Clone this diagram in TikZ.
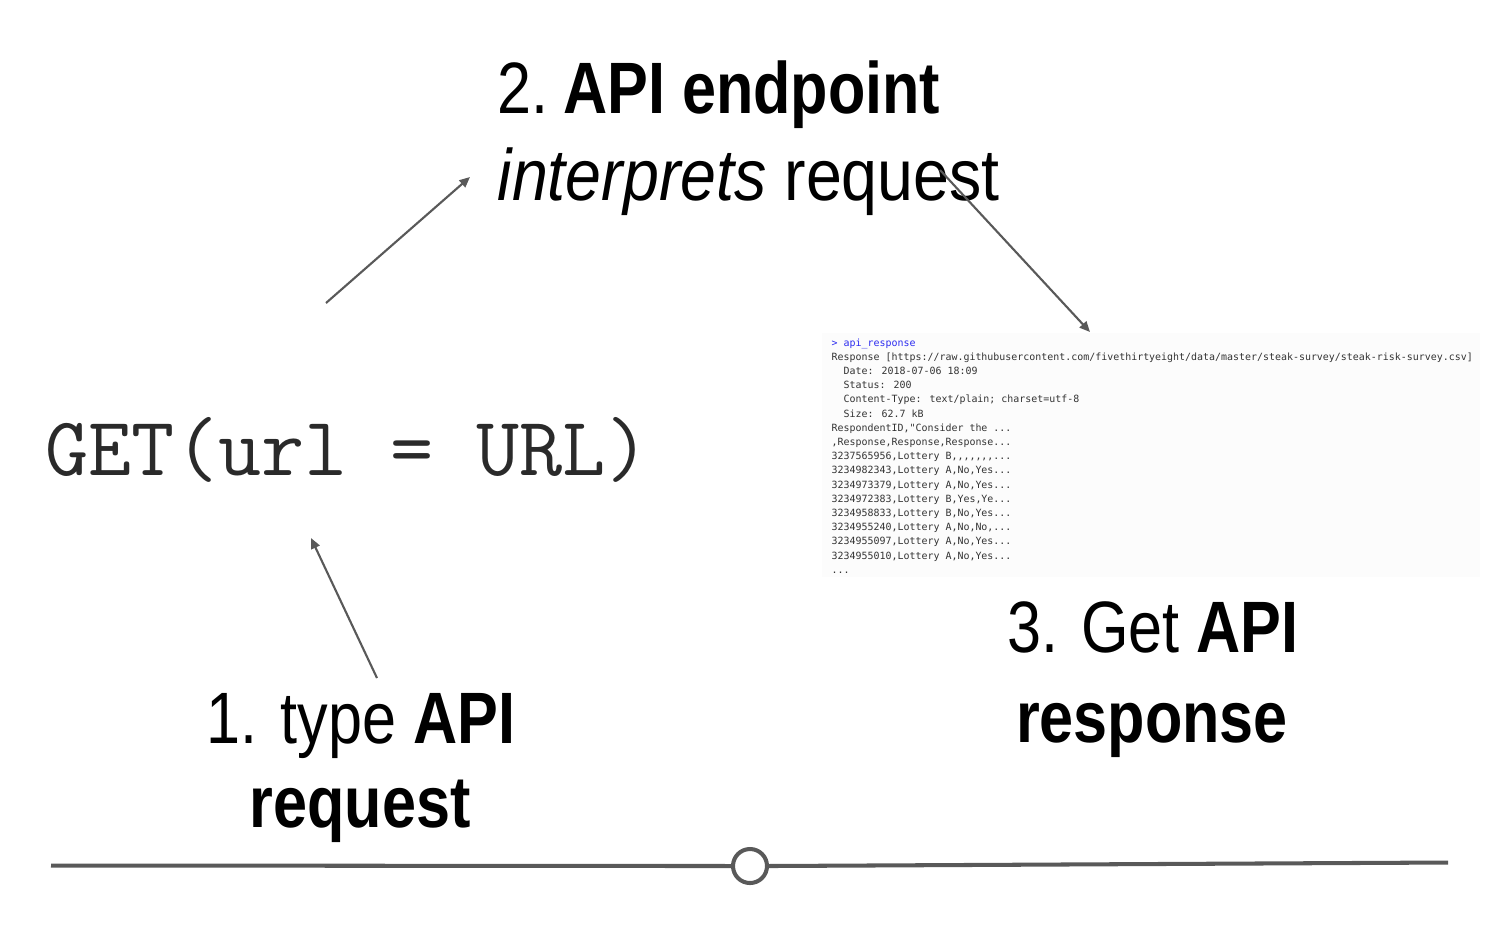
\documentclass[tikz,border=0pt]{standalone}
\usepackage{fontspec}
\setmainfont{Liberation Sans}[FakeStretch=0.84]
\newfontfamily\shotfont{DejaVu Sans Mono}
\usetikzlibrary{arrows.meta}
\definecolor{linegray}{HTML}{595959}
\definecolor{codegray}{HTML}{2A2A2A}
\definecolor{shotgray}{HTML}{333333}
\definecolor{shotblue}{HTML}{2B2BF0}
\definecolor{shotbg}{HTML}{FCFCFC}
\tikzset{
  title/.style={inner sep=0pt, font=\fontsize{20.7pt}{24pt}\selectfont, text=black},
  conn/.style={draw=linegray, line width=0.6pt, -{Triangle[length=3pt,width=2.6pt]}},
  shotline/.style={inner sep=0pt, anchor=base west, text=shotgray, font=\shotfont\fontsize{2.83pt}{4pt}\selectfont},
  axis/.style={draw=linegray, line width=1.15pt},
}
\newcommand{\ind}{\phantom{xx}}
\begin{document}
\begin{tikzpicture}[x=0.01cm, y=-0.01cm]
\useasboundingbox (0,0) rectangle (1500,938);
% titles
\node[title, anchor=base west] (t2a) at (497,113) {2.\hspace{0.2em}\textbf{API endpoint}};
\node[title, anchor=base west] (t2b) at (497,200) {\scalebox{1.055}[1]{\textit{interprets} request}};
\node[title, anchor=base] (t1a) at (361,743) {1. type \textbf{API}};
\node[title, anchor=base] (t1b) at (360,827) {\textbf{request}};
\node[title, anchor=base] (t3a) at (1153,652) {3. Get \textbf{API}};
\node[title, anchor=base] (t3b) at (1152,742) {\textbf{response}};
% code
\node[inner sep=0pt, anchor=base west, text=codegray, font=\ttfamily\fontsize{23.8pt}{27pt}\selectfont] (get) at (45,475) {GET(url = URL)};
% screenshot
\fill[shotbg] (822,333) rectangle (1480,577);
\node[shotline, text=shotblue] (r1) at (831,346.0) {> api\_response};
\node[shotline] (r2) at (831,360.2) {Response [https://raw.githubusercontent.com/fivethirtyeight/data/master/steak-survey/steak-risk-survey.csv]};
\node[shotline] (r3) at (831,374.4) {\ind Date: 2018-07-06 18:09};
\node[shotline] (r4) at (831,388.6) {\ind Status: 200};
\node[shotline] (r5) at (831,402.8) {\ind Content-Type: text/plain; charset=utf-8};
\node[shotline] (r6) at (831,417.0) {\ind Size: 62.7 kB};
\node[shotline] (r7) at (831,431.2) {RespondentID,"Consider the ...};
\node[shotline] (r8) at (831,445.4) {,Response,Response,Response...};
\node[shotline] (r9) at (831,459.6) {3237565956,Lottery B,,,,,,,...};
\node[shotline] (r10) at (831,473.8) {3234982343,Lottery A,No,Yes...};
\node[shotline] (r11) at (831,488.0) {3234973379,Lottery A,No,Yes...};
\node[shotline] (r12) at (831,502.2) {3234972383,Lottery B,Yes,Ye...};
\node[shotline] (r13) at (831,516.4) {3234958833,Lottery B,No,Yes...};
\node[shotline] (r14) at (831,530.6) {3234955240,Lottery A,No,No,...};
\node[shotline] (r15) at (831,544.8) {3234955097,Lottery A,No,Yes...};
\node[shotline] (r16) at (831,559.0) {3234955010,Lottery A,No,Yes...};
\node[shotline] (r17) at (831,573.2) {...};
% connectors
\coordinate (a1s) at (377,678);
\coordinate (a1e) at (311,538);
\coordinate (a2s) at (326,303);
\coordinate (a2e) at (470,177);
\coordinate (a3s) at (940,170);
\coordinate (a3e) at (1090,332);
\draw[conn] (a1s) -- (a1e);
\draw[conn] (a2s) -- (a2e);
\draw[conn] (a3s) -- (a3e);
% timeline
\node[circle, draw=linegray, line width=1.15pt, fill=white, minimum size=0.34cm, inner sep=0pt] (circ) at (750,866) {};
\coordinate (L1) at (51,865.5);
\coordinate (L2) at (1448,862.5);
\draw[axis] (L1) -- (circ.west);
\draw[axis] (circ.east) -- (L2);
\end{tikzpicture}
\end{document}
